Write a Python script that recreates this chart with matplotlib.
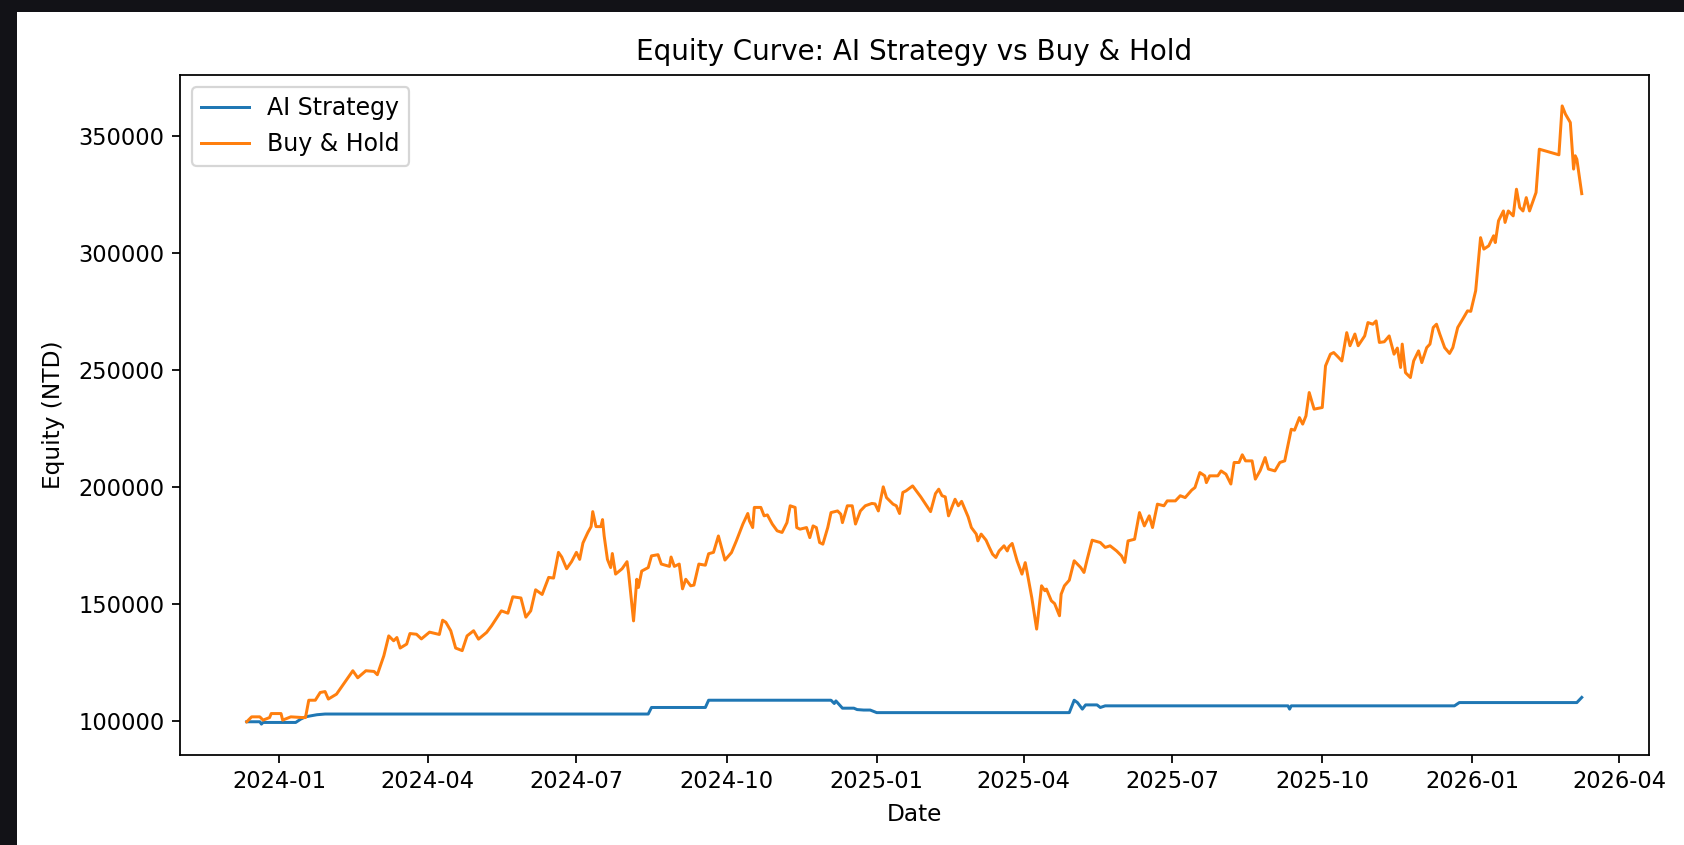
import matplotlib
matplotlib.use("Agg")
import matplotlib.pyplot as plt
import pandas as pd
from matplotlib.patches import Rectangle

# values (NTD)
ai_dates = [
    "2023-12-12", "2023-12-20", "2023-12-21", "2023-12-22", "2024-01-11", "2024-01-14",
    "2024-01-17", "2024-01-20", "2024-01-24", "2024-01-29", "2024-08-14", "2024-08-16",
    "2024-09-18", "2024-09-20", "2024-12-04", "2024-12-06", "2024-12-07", "2024-12-11",
    "2024-12-18", "2024-12-20", "2024-12-24", "2024-12-28", "2025-01-01", "2025-04-29",
    "2025-05-02", "2025-05-04", "2025-05-07", "2025-05-09", "2025-05-16", "2025-05-18",
    "2025-05-21", "2025-09-10", "2025-09-11", "2025-09-12", "2025-12-21", "2025-12-24",
    "2026-03-06", "2026-03-09",
]
ai_equity = [
    99600, 99600, 98600, 99300, 99300, 100700,
    101700, 102100, 102600, 102900, 102900, 105700,
    105700, 108800, 108800, 107400, 108500, 105400,
    105400, 104800, 104600, 104600, 103500, 103500,
    108800, 107800, 105000, 106800, 106800, 105700,
    106400, 106400, 105000, 106400, 106400, 107800,
    107800, 110000,
]

bh_dates = [
    "2023-12-12", "2023-12-15", "2023-12-20", "2023-12-22", "2023-12-26", "2023-12-27",
    "2024-01-02", "2024-01-03", "2024-01-08", "2024-01-15", "2024-01-17", "2024-01-19",
    "2024-01-23", "2024-01-26", "2024-01-29", "2024-01-31", "2024-02-05", "2024-02-15",
    "2024-02-18", "2024-02-23", "2024-02-28", "2024-03-01", "2024-03-05", "2024-03-08",
    "2024-03-11", "2024-03-13", "2024-03-15", "2024-03-19", "2024-03-21", "2024-03-25",
    "2024-03-28", "2024-04-02", "2024-04-08", "2024-04-10", "2024-04-12", "2024-04-15",
    "2024-04-18", "2024-04-22", "2024-04-25", "2024-04-29", "2024-05-02", "2024-05-07",
    "2024-05-10", "2024-05-16", "2024-05-20", "2024-05-23", "2024-05-28", "2024-05-31",
    "2024-06-03", "2024-06-06", "2024-06-10", "2024-06-14", "2024-06-17", "2024-06-20",
    "2024-06-22", "2024-06-25", "2024-06-28", "2024-07-01", "2024-07-03", "2024-07-05",
    "2024-07-08", "2024-07-10", "2024-07-11", "2024-07-13", "2024-07-16", "2024-07-17",
    "2024-07-18", "2024-07-20", "2024-07-22", "2024-07-23", "2024-07-25", "2024-07-29",
    "2024-08-01", "2024-08-02", "2024-08-05", "2024-08-07", "2024-08-08", "2024-08-10",
    "2024-08-14", "2024-08-16", "2024-08-20", "2024-08-22", "2024-08-27", "2024-08-28",
    "2024-08-30", "2024-09-02", "2024-09-04", "2024-09-06", "2024-09-09", "2024-09-11",
    "2024-09-14", "2024-09-18", "2024-09-20", "2024-09-23", "2024-09-26", "2024-09-30",
    "2024-10-04", "2024-10-07", "2024-10-11", "2024-10-14", "2024-10-15", "2024-10-17",
    "2024-10-18", "2024-10-22", "2024-10-24", "2024-10-26", "2024-10-29", "2024-11-01",
    "2024-11-04", "2024-11-07", "2024-11-09", "2024-11-12", "2024-11-13", "2024-11-15",
    "2024-11-19", "2024-11-21", "2024-11-23", "2024-11-25", "2024-11-27", "2024-11-29",
    "2024-12-02", "2024-12-04", "2024-12-08", "2024-12-10", "2024-12-11", "2024-12-14",
    "2024-12-17", "2024-12-19", "2024-12-22", "2024-12-25", "2024-12-29", "2024-12-31",
    "2025-01-02", "2025-01-05", "2025-01-07", "2025-01-11", "2025-01-13", "2025-01-15",
    "2025-01-17", "2025-01-19", "2025-01-23", "2025-01-28", "2025-02-03", "2025-02-06",
    "2025-02-08", "2025-02-10", "2025-02-12", "2025-02-14", "2025-02-18", "2025-02-20",
    "2025-02-22", "2025-02-26", "2025-02-28", "2025-03-03", "2025-03-04", "2025-03-06",
    "2025-03-09", "2025-03-11", "2025-03-13", "2025-03-15", "2025-03-17", "2025-03-20",
    "2025-03-22", "2025-03-23", "2025-03-25", "2025-03-28", "2025-03-31", "2025-04-02",
    "2025-04-03", "2025-04-06", "2025-04-09", "2025-04-12", "2025-04-14", "2025-04-15",
    "2025-04-18", "2025-04-20", "2025-04-23", "2025-04-24", "2025-04-26", "2025-04-29",
    "2025-05-02", "2025-05-06", "2025-05-08", "2025-05-10", "2025-05-13", "2025-05-18",
    "2025-05-21", "2025-05-24", "2025-05-28", "2025-05-31", "2025-06-02", "2025-06-04",
    "2025-06-08", "2025-06-11", "2025-06-14", "2025-06-17", "2025-06-19", "2025-06-22",
    "2025-06-26", "2025-06-28", "2025-07-03", "2025-07-06", "2025-07-09", "2025-07-13",
    "2025-07-15", "2025-07-18", "2025-07-21", "2025-07-22", "2025-07-24", "2025-07-29",
    "2025-07-31", "2025-08-03", "2025-08-06", "2025-08-08", "2025-08-11", "2025-08-13",
    "2025-08-15", "2025-08-19", "2025-08-21", "2025-08-24", "2025-08-27", "2025-08-29",
    "2025-09-02", "2025-09-05", "2025-09-08", "2025-09-12", "2025-09-14", "2025-09-17",
    "2025-09-19", "2025-09-21", "2025-09-23", "2025-09-26", "2025-10-01", "2025-10-03",
    "2025-10-06", "2025-10-08", "2025-10-10", "2025-10-13", "2025-10-16", "2025-10-18",
    "2025-10-21", "2025-10-23", "2025-10-27", "2025-10-29", "2025-11-01", "2025-11-03",
    "2025-11-05", "2025-11-08", "2025-11-11", "2025-11-14", "2025-11-16", "2025-11-18",
    "2025-11-19", "2025-11-21", "2025-11-24", "2025-11-26", "2025-11-29", "2025-12-01",
    "2025-12-04", "2025-12-06", "2025-12-08", "2025-12-10", "2025-12-12", "2025-12-15",
    "2025-12-18", "2025-12-20", "2025-12-23", "2025-12-26", "2025-12-29", "2025-12-31",
    "2026-01-03", "2026-01-06", "2026-01-08", "2026-01-11", "2026-01-14", "2026-01-15",
    "2026-01-17", "2026-01-20", "2026-01-21", "2026-01-23", "2026-01-26", "2026-01-28",
    "2026-01-30", "2026-02-01", "2026-02-03", "2026-02-05", "2026-02-09", "2026-02-11",
    "2026-02-23", "2026-02-25", "2026-02-27", "2026-03-02", "2026-03-04", "2026-03-05",
    "2026-03-06", "2026-03-09",
]
bh_equity = [
    99600, 101700, 101700, 100300, 101400, 103100,
    103100, 100300, 101700, 101400, 101400, 108800,
    108800, 112100, 112500, 109300, 111400, 121400,
    118400, 121400, 121100, 119700, 127800, 136300,
    134200, 135600, 131100, 132800, 137300, 137000,
    135000, 137900, 136900, 143000, 142100, 138500,
    131100, 130000, 136300, 138500, 134900, 137800,
    140600, 147000, 146000, 153000, 152500, 144300,
    147000, 156000, 154000, 161300, 161000, 172000,
    170000, 165000, 168000, 172000, 169000, 176000,
    180500, 183000, 189400, 183000, 183000, 186000,
    179000, 169000, 165500, 171500, 162700, 165000,
    168000, 163000, 142700, 160500, 157000, 164000,
    165500, 170500, 171000, 167000, 166000, 170000,
    166000, 167000, 156400, 160500, 157700, 158000,
    167000, 166500, 171400, 172000, 179000, 168700,
    171900, 176900, 184100, 188600, 185500, 182600,
    191200, 191200, 187600, 188000, 184100, 181200,
    180500, 184700, 191900, 191200, 182600, 181900,
    182600, 178300, 183300, 182600, 176200, 175500,
    182600, 189000, 189700, 188300, 184700, 191900,
    191900, 184100, 189700, 191900, 192900, 192700,
    189700, 200000, 195400, 192600, 191900, 188600,
    197600, 198300, 200400, 195700, 189400, 197100,
    199000, 196200, 195700, 187600, 194700, 191900,
    193800, 187200, 182600, 179800, 176900, 179800,
    177200, 174100, 171200, 169800, 172600, 174800,
    172600, 174400, 175800, 168400, 162700, 167600,
    164100, 152700, 139200, 157700, 155600, 156300,
    151300, 150100, 144900, 154100, 157700, 160100,
    168400, 165500, 163400, 169100, 177200, 176200,
    174100, 174800, 172600, 170500, 167700, 176900,
    177600, 189000, 183300, 187600, 182600, 192600,
    191900, 194000, 194000, 196200, 195400, 198600,
    199700, 206100, 204700, 201800, 204700, 204700,
    206800, 205400, 201200, 210400, 210400, 213700,
    211100, 211100, 203300, 207000, 212500, 207600,
    206800, 210400, 211100, 224600, 224200, 229600,
    226800, 230300, 240300, 233200, 233900, 251700,
    256700, 257400, 256000, 253800, 265900, 260300,
    265300, 260300, 264500, 270200, 269500, 270900,
    261700, 262000, 264500, 256700, 259300, 251000,
    261000, 248800, 246700, 253800, 258100, 253100,
    259500, 261000, 268100, 269500, 265300, 259500,
    257000, 259500, 268100, 271600, 275200, 275000,
    283800, 306500, 301600, 303000, 307300, 304400,
    313700, 317900, 313000, 317900, 315800, 327200,
    319400, 317900, 323600, 317900, 325800, 344300,
    341900, 362800, 359300, 355700, 335800, 341500,
    340000, 325300,
]

fig = plt.figure(figsize=(1684 / 159, 845 / 159), dpi=159, facecolor="#121217")
# white page inside the dark screenshot border
fig.patches.append(Rectangle((17 / 1684, 0), 1, 1 - 12 / 845, transform=fig.transFigure,
                             facecolor="white", edgecolor="none", zorder=-10))

ax = fig.add_axes([180 / 1684, 1 - 755 / 845, (1648.5 - 180) / 1684, (755 - 75) / 845])
ax.plot(pd.to_datetime(ai_dates), ai_equity, label="AI Strategy", linewidth=1.35)
ax.plot(pd.to_datetime(bh_dates), bh_equity, label="Buy & Hold", linewidth=1.35)
ax.set_title("Equity Curve: AI Strategy vs Buy & Hold", fontsize=12.6, pad=7)
ax.set_xlabel("Date", fontsize=10.5, labelpad=4.2)
ax.set_ylabel("Equity (NTD)", fontsize=10.5, labelpad=6)
ax.tick_params(labelsize=10.2)
ax.legend(loc="upper left", fontsize=10.7)

fig.savefig("out.png", dpi=159, facecolor=fig.get_facecolor())
